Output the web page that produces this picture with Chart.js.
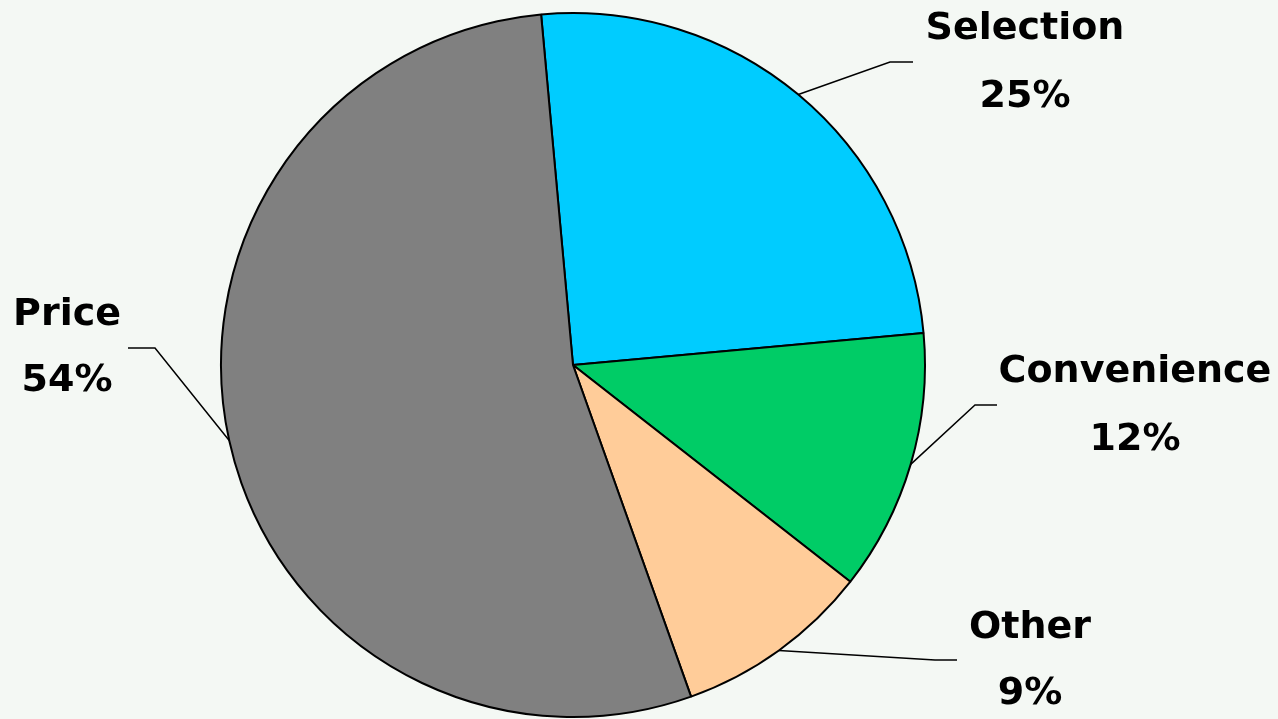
<!DOCTYPE html>
<html>
<head>
<meta charset="utf-8">
<script src="https://cdn.jsdelivr.net/npm/chart.js@4"></script>
<style>
  html, body { margin: 0; padding: 0; background: #f4f8f4; }
  #wrap { width: 1278px; height: 719px; }
</style>
</head>
<body>
<div id="wrap"><canvas id="pie"></canvas></div>
<script>
const labels = ["Selection", "Convenience", "Other", "Price"];
const shares = [25, 12, 9, 54];
const colors = ["#00ccff", "#00cc66", "#ffcc99", "#808080"];

// elbow / end of each leader line and label centre (x, y of line 1, y of line 2)
const leaders = [
  { elbow: [890, 62], end: [913, 62], text: [1025, 29, 97] },
  { elbow: [975, 405], end: [997, 405], text: [1135, 372, 440] },
  { elbow: [935, 660], end: [957, 660], text: [1030, 628, 694] },
  { elbow: [155, 348], end: [128, 348], text: [67, 315, 381] }
];

const calloutPlugin = {
  id: "callouts",
  afterDatasetsDraw(chart) {
    const ctx = chart.ctx;
    const arcs = chart.getDatasetMeta(0).data;
    ctx.save();
    arcs.forEach((arc, i) => {
      const mid = (arc.startAngle + arc.endAngle) / 2;
      const ax = arc.x + Math.cos(mid) * arc.outerRadius;
      const ay = arc.y + Math.sin(mid) * arc.outerRadius;
      const l = leaders[i];
      ctx.beginPath();
      ctx.moveTo(ax, ay);
      ctx.lineTo(l.elbow[0], l.elbow[1]);
      ctx.lineTo(l.end[0], l.end[1]);
      ctx.strokeStyle = "#000";
      ctx.lineWidth = 1.5;
      ctx.stroke();

      ctx.fillStyle = "#000";
      ctx.font = "bold 38px 'DejaVu Sans'";
      ctx.textAlign = "center";
      ctx.textBaseline = "middle";
      ctx.fillText(labels[i], l.text[0], l.text[1]);
      ctx.fillText(shares[i] + "%", l.text[0], l.text[2]);
    });
    ctx.restore();
  }
};

new Chart(document.getElementById("pie"), {
  type: "pie",
  data: {
    labels: labels,
    datasets: [{
      data: shares,
      backgroundColor: colors,
      borderColor: "#000",
      borderWidth: 2
    }]
  },
  options: {
    responsive: true,
    maintainAspectRatio: false,
    animation: false,
    rotation: -5.2,
    radius: 352,
    layout: { padding: { left: 221, right: 353, top: 13, bottom: 2 } },
    plugins: {
      legend: { display: false },
      tooltip: { enabled: false }
    }
  },
  plugins: [calloutPlugin]
});
</script>
</body>
</html>
